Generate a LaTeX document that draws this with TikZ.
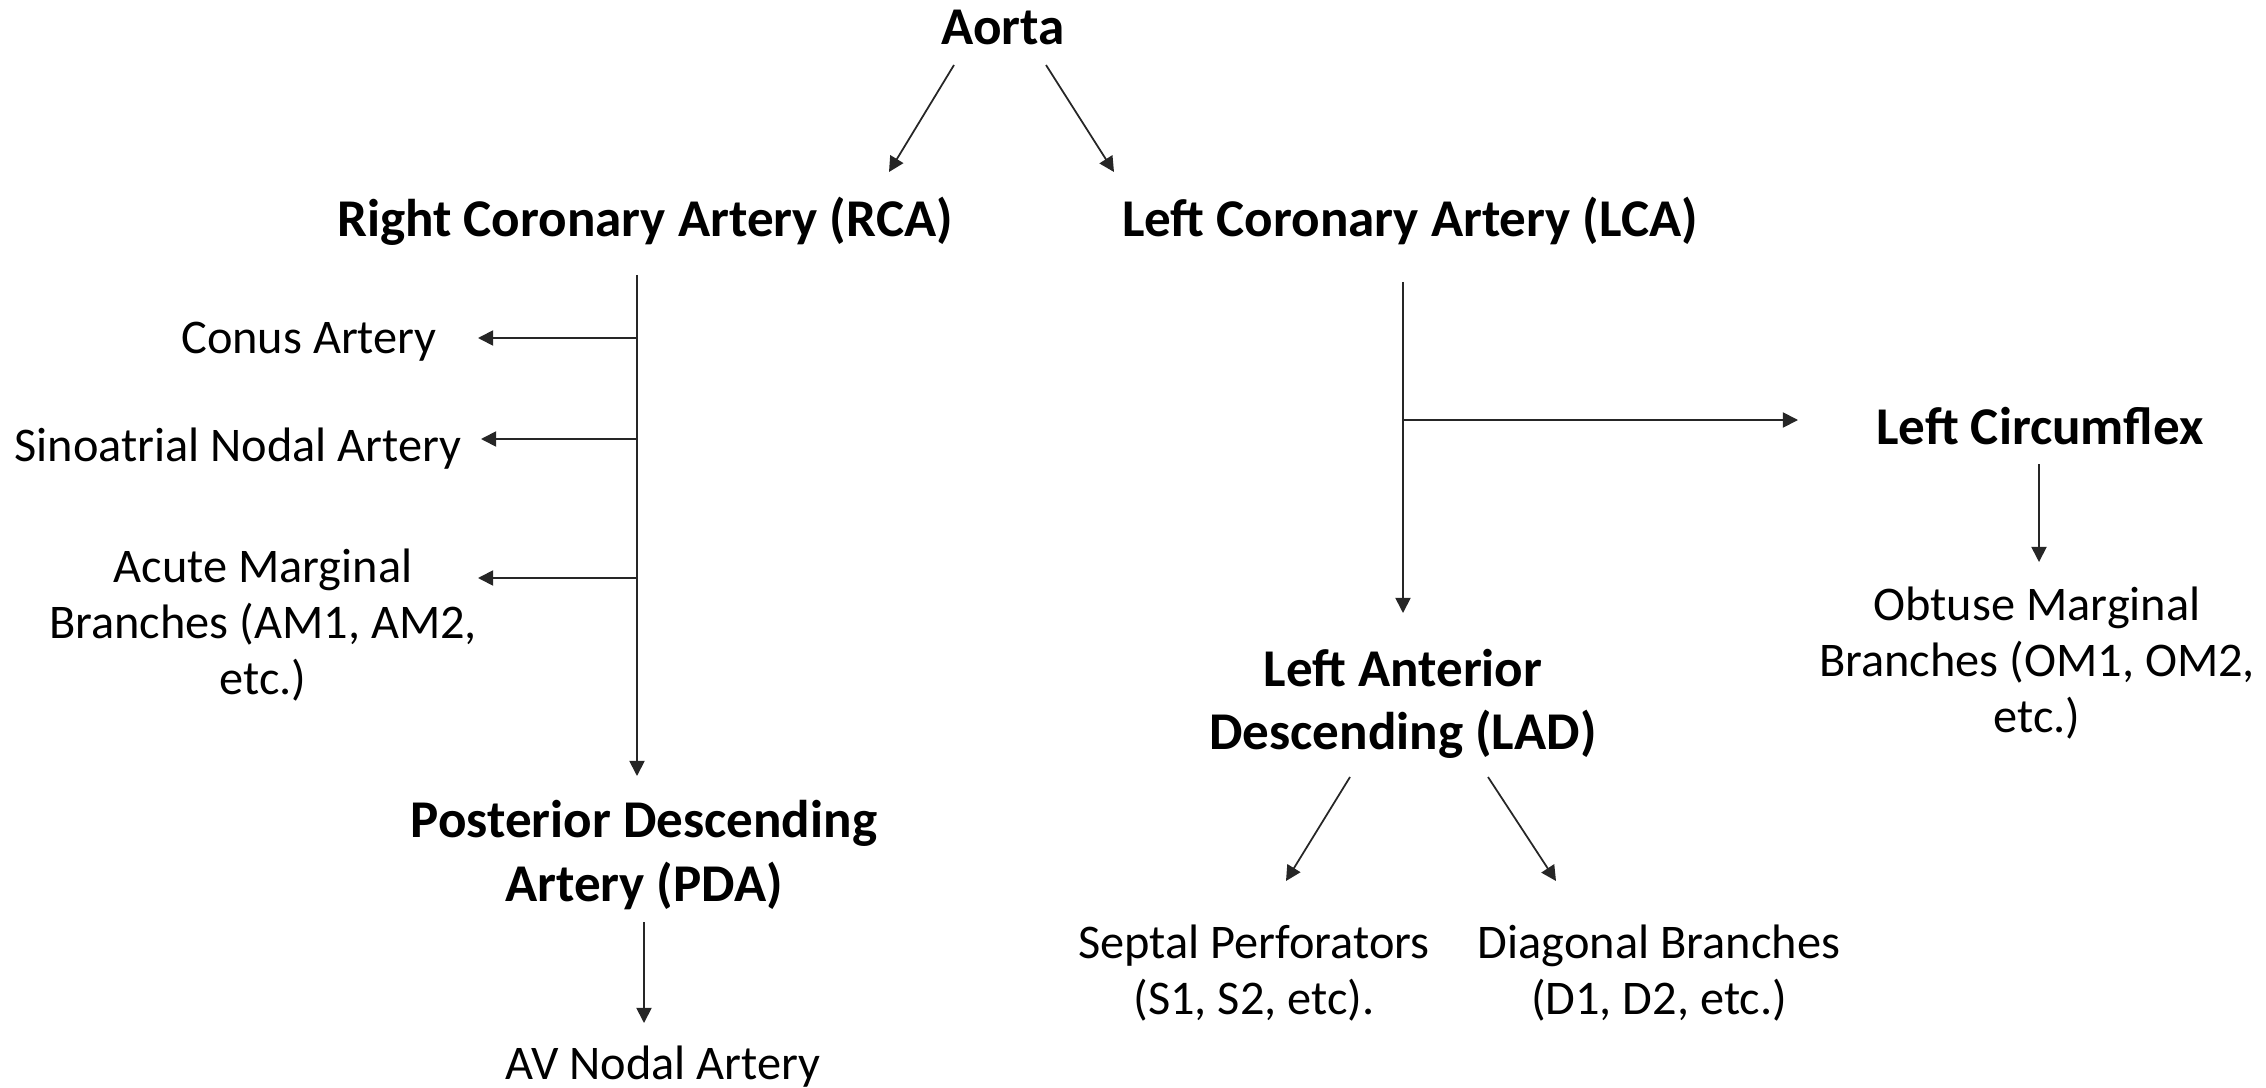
\documentclass[tikz,border=0pt]{standalone}
\usepackage{fontspec}
\setmainfont{Carlito}
\usetikzlibrary{arrows.meta}
\tikzset{
 lbl/.style={font=\fontsize{13.75}{16}\selectfont, align=center, inner sep=0pt},
 blbl/.style={font=\fontsize{15.1}{18}\selectfont\bfseries, align=center, inner sep=0pt},
 arr/.style={-{Triangle[length=4.3pt,width=4.3pt]}, line width=0.5pt, draw=black!85},
 ln/.style={line width=0.5pt, draw=black!85}
}
\begin{document}
\begin{tikzpicture}[x=0.01cm,y=-0.01cm]
\useasboundingbox (0,0) rectangle (2266,1088);
% nodes
\node[blbl] (aorta) at (1003,27) {Aorta};
\node[blbl] (rca) at (645,221) {Right Coronary Artery (RCA)};
\node[blbl] (lca) at (1410,221) {Left Coronary Artery (LCA)};
\node[lbl] (conus) at (309,342) {Conus Artery};
\node[lbl] (sa) at (238,449) {Sinoatrial Nodal Artery};
\node[lbl] (am) at (263,625) {Acute Marginal\\Branches (AM1, AM2,\\etc.)};
\node[blbl] (pda) at (644,855) {Posterior Descending\\Artery (PDA)};
\node[lbl] (av) at (663,1067) {AV Nodal Artery};
\node[blbl] (lcx) at (2040,426) {Left Circumflex};
\node[lbl] (om) at (2037,663) {Obtuse Marginal\\Branches (OM1, OM2,\\etc.)};
\node[blbl] (lad) at (1403,704) {Left Anterior\\Descending (LAD)};
\node[lbl] (sep) at (1254,973) {Septal Perforators\\(S1, S2, etc).};
\node[lbl] (diag) at (1659,973) {Diagonal Branches\\(D1, D2, etc.)};
% connector end points
\coordinate (aoL) at (954,65);
\coordinate (aoR) at (1046,65);
\coordinate (rcaIn) at (889,172);
\coordinate (lcaIn) at (1114,172);
\coordinate (rcaTop) at (637,275);
\coordinate (pdaIn) at (637,776);
\coordinate (b1) at (636,338);
\coordinate (b2) at (636,439);
\coordinate (b3) at (636,578);
\coordinate (conusIn) at (478,338);
\coordinate (saIn) at (481,439);
\coordinate (amIn) at (478,578);
\coordinate (pdaOut) at (644,922);
\coordinate (avIn) at (644,1023);
\coordinate (lcaTop) at (1403,282);
\coordinate (ladIn) at (1403,613);
\coordinate (lcaB) at (1403,420);
\coordinate (lcxIn) at (1798,420);
\coordinate (lcxOut) at (2039,464);
\coordinate (omIn) at (2039,562);
\coordinate (ladL) at (1350,777);
\coordinate (ladR) at (1488,777);
\coordinate (sepIn) at (1286,881);
\coordinate (diagIn) at (1556,881);
% connectors
\draw[arr] (aoL) -- (rcaIn);
\draw[arr] (aoR) -- (lcaIn);
\draw[arr] (rcaTop) -- (pdaIn);
\draw[arr] (b1) -- (conusIn);
\draw[arr] (b2) -- (saIn);
\draw[arr] (b3) -- (amIn);
\draw[arr] (pdaOut) -- (avIn);
\draw[arr] (lcaTop) -- (ladIn);
\draw[arr] (lcaB) -- (lcxIn);
\draw[arr] (lcxOut) -- (omIn);
\draw[arr] (ladL) -- (sepIn);
\draw[arr] (ladR) -- (diagIn);
\end{tikzpicture}
\end{document}
